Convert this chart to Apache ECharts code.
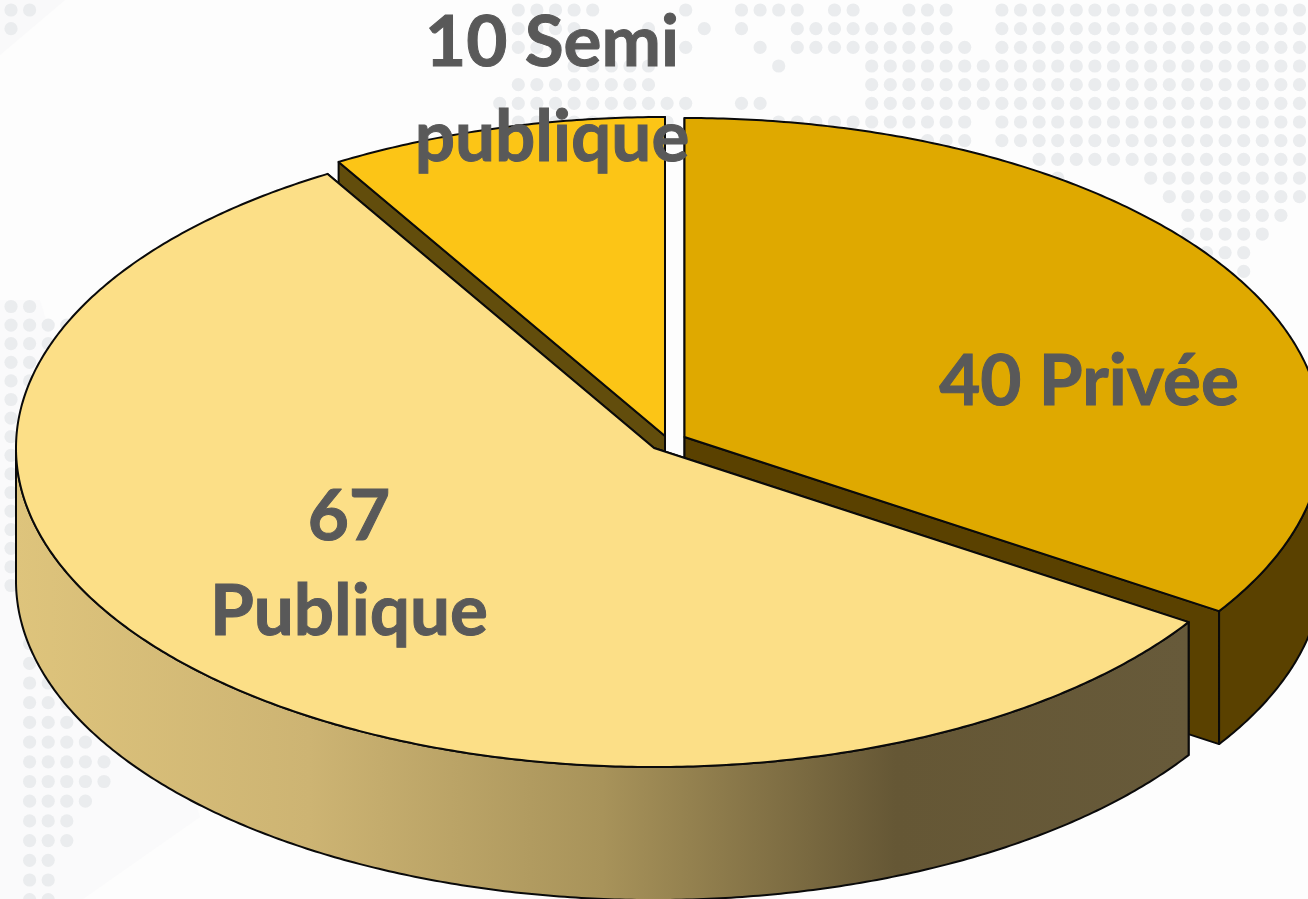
<!DOCTYPE html>
<html>
<head>
<meta charset="utf-8">
<style>
  html, body { margin: 0; padding: 0; background: #fdfdfd; }
  #chart { width: 1308px; height: 899px; }
</style>
</head>
<body>
<div id="chart"></div>
<script src="https://cdn.jsdelivr.net/npm/echarts@6/dist/echarts.min.js"></script>
<script>
// data, clockwise from 12 o'clock
const categories = ['Privée', 'Publique', 'Semi publique']
const values = [40, 67, 10]
const sliceLabels = ['40 Privée', '67\nPublique', '10 Semi\npublique']

// pie geometry (tilted ellipse)
const CENTER = [668, 442]
const RX = 638
const RY = 319
const DEPTH = 133
const EXPLODE = { 'Privée': [16.5, -5], 'Publique': [-14, 6], 'Semi publique': [-3, -6] }

const TOP_COLORS = { 'Privée': '#DFA900', 'Publique': '#FCDF87', 'Semi publique': '#FCC516' }
const WALL_COLORS = { 'Privée': '#5A4100', 'Publique': '#675A3A', 'Semi publique': '#624D0C' }
const LINE_COLOR = '#0A0A0A'
const LABEL_COLOR = '#595959'
const LABEL_POS = { 'Privée': [1089, 382], 'Publique': [349, 565], 'Semi publique': [552, 91] }
// painter's order: back slice first
const SLICE_Z = { 'Semi publique': 1, 'Privée': 2, 'Publique': 3 }

const wallGradient = new echarts.graphic.LinearGradient(0, 0, 1, 0, [
  { offset: 0, color: '#DEC47C' },
  { offset: 0.25, color: '#CDB473' },
  { offset: 0.5, color: '#A8935A' },
  { offset: 0.75, color: '#655735' },
  { offset: 1, color: '#675A3A' },
])

// world map dots behind the pie: [first column, last column] runs per row
const dotBlocks = [
  {
    x0: 741.5, dx: 18.6, y0: 10, dy: 18.67,
    rows: [
      [[-12, -8], [-3, -3], [0, 3], [5, 6], [9, 11], [14, 30]],
      [[-13, -9], [-5, -5], [-2, -2], [0, 0], [3, 11], [14, 30]],
      [[-12, -9], [-3, -3], [1, 1], [3, 12], [14, 30]],
      [[-9, -5], [2, 2], [7, 30]],
      [[-12, -5], [7, 30]],
      [[-13, -3], [0, 1], [7, 30]],
      [[-12, -4], [2, 12], [14, 30]],
      [[10, 12], [14, 30]],
      [[16, 30]],
      [[17, 17], [22, 30]],
      [[23, 30]],
      [[24, 29]],
      [[24, 28]],
      [[25, 27]],
      [[27, 27]],
    ],
  },
  { x0: 11, dx: 18.6, y0: 10, dy: 18.67, rows: [[[0, 1]], [[0, 0]]] },
  {
    x0: 11, dx: 18.6, y0: 306.5, dy: 18.6,
    rows: [
      [[0, 1]], [[0, 3]], [[0, 2]], [[0, 2]], [[0, 1]], [[0, 1]],
      [[0, 0]], [[0, 0]], [[0, 0]], [[0, 0]], [[0, 0]],
      [[0, 0]], [[0, 0]], [[0, 0]], [[0, 0]], [[0, 0]],
    ],
  },
  {
    x0: 11, dx: 18.6, y0: 643.6, dy: 19.7,
    rows: [
      [[1, 1]], [[1, 2]], [[1, 2]], [[1, 3]], [[1, 3]], [[1, 4]], [[1, 5]],
      [[1, 5]], [[1, 4]], [[1, 3]], [[1, 3]], [[1, 2]], [[1, 2]], [[1, 2]],
    ],
  },
]

function buildBackdrop() {
  const items = [
    { type: 'polygon', shape: { points: [[0, 0], [65, 0], [0, 55]] }, style: { fill: '#F9F9FA' } },
    { type: 'polygon', shape: { points: [[0, 300], [40, 300], [200, 817], [83, 899], [0, 899]] }, style: { fill: '#FAFAFB' } },
  ]
  dotBlocks.forEach((b) => {
    b.rows.forEach((runs, r) => {
      runs.forEach(([from, to]) => {
        for (let k = from; k <= to; k++) {
          items.push({
            type: 'circle',
            shape: { cx: b.x0 + k * b.dx, cy: b.y0 + r * b.dy, r: 6.6 },
            style: { fill: '#EAECEE' },
          })
        }
      })
    })
  })
  return items
}

const total = values.reduce((a, b) => a + b, 0)

// theta is measured clockwise from the top of the ellipse
function rimPoint(apex, theta, drop) {
  return [apex[0] + RX * Math.sin(theta), apex[1] - RY * Math.cos(theta) + drop]
}

function arcPoints(apex, from, to, drop) {
  const pts = []
  const steps = Math.max(2, Math.ceil(Math.abs(to - from) / (Math.PI / 360)))
  for (let i = 0; i <= steps; i++) {
    pts.push(rimPoint(apex, from + ((to - from) * i) / steps, drop))
  }
  return pts
}

function face(points, fill, z2) {
  return {
    type: 'polygon',
    z2,
    shape: { points },
    style: { fill, stroke: LINE_COLOR, lineWidth: 2, lineJoin: 'round' },
  }
}

function renderSlice(params, api) {
  const idx = params.dataIndex
  const name = categories[idx]
  const before = values.slice(0, idx).reduce((a, b) => a + b, 0)
  const start = (before / total) * Math.PI * 2
  const end = ((before + api.value(0)) / total) * Math.PI * 2
  const shift = EXPLODE[name]
  const apex = [CENTER[0] + shift[0], CENTER[1] + shift[1]]
  const low = [apex[0], apex[1] + DEPTH]
  const z = SLICE_Z[name] * 10
  const wallColor = WALL_COLORS[name]
  const children = []

  // cut faces first, the top face hides whatever falls behind it
  children.push(face([apex, rimPoint(apex, start, 0), rimPoint(apex, start, DEPTH), low], wallColor, z))
  children.push(face([apex, rimPoint(apex, end, 0), rimPoint(apex, end, DEPTH), low], wallColor, z))

  // outer wall, only the front half of the rim shows
  const wallFrom = Math.max(start, Math.PI / 2)
  const wallTo = Math.min(end, Math.PI * 1.5)
  if (wallTo > wallFrom) {
    const pts = arcPoints(apex, wallFrom, wallTo, 0).concat(arcPoints(apex, wallTo, wallFrom, DEPTH))
    children.push(face(pts, name === 'Publique' ? wallGradient : wallColor, z + 1))
  }

  children.push(face([apex].concat(arcPoints(apex, start, end, 0)), TOP_COLORS[name], z + 2))

  const pos = LABEL_POS[name]
  children.push({
    type: 'text',
    z2: 100,
    style: {
      x: pos[0],
      y: pos[1],
      text: sliceLabels[idx],
      fill: LABEL_COLOR,
      stroke: LABEL_COLOR,
      lineWidth: 1,
      font: 'bold 71px Lato, "Noto Sans", sans-serif',
      lineHeight: 95,
      align: 'center',
      verticalAlign: 'middle',
    },
  })
  return { type: 'group', children }
}

const chart = echarts.init(document.getElementById('chart'))
chart.setOption({
  animation: false,
  backgroundColor: '#FDFDFD',
  graphic: { elements: buildBackdrop() },
  series: [
    {
      type: 'custom',
      coordinateSystem: 'none',
      clip: false,
      renderItem: renderSlice,
      data: categories.map((name, i) => ({ name, value: [values[i]] })),
    },
  ],
})
</script>
</body>
</html>
